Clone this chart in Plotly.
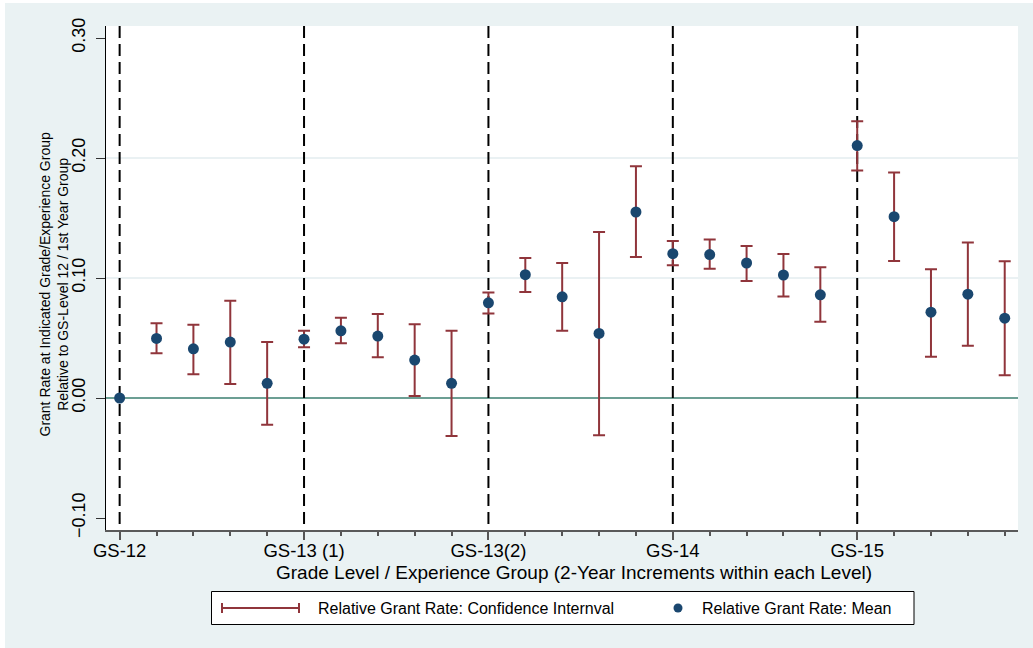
import plotly.graph_objects as go

# ---- data -----------------------------------------------------------------
group_index = list(range(25))          # 2-year experience groups, 5 per grade
grade_starts = [0, 5, 10, 15, 20]      # first group of each grade level
grade_labels = ["GS-12", "GS-13 (1)", "GS-13(2)", "GS-14", "GS-15"]

rate_mean = [0.000, 0.0496, 0.0410, 0.0466, 0.0122,
             0.0490, 0.0560, 0.0516, 0.0316, 0.0122,
             0.0793, 0.1028, 0.0843, 0.0538, 0.1550,
             0.1203, 0.1195, 0.1125, 0.1025, 0.0860,
             0.2104, 0.1511, 0.0715, 0.0865, 0.0665]
ci_lower = [None, 0.0372, 0.0197, 0.0117, -0.0222,
            0.0422, 0.0457, 0.0340, 0.0017, -0.0316,
            0.0704, 0.0884, 0.0560, -0.0310, 0.1175,
            0.1106, 0.1078, 0.0976, 0.0845, 0.0635,
            0.1896, 0.1142, 0.0343, 0.0435, 0.0190]
ci_upper = [None, 0.0622, 0.0611, 0.0810, 0.0466,
            0.0560, 0.0668, 0.0700, 0.0615, 0.0560,
            0.0880, 0.1167, 0.1125, 0.1383, 0.1932,
            0.1308, 0.1320, 0.1267, 0.1200, 0.1090,
            0.2306, 0.1880, 0.1073, 0.1295, 0.1140]

y_ticks = [-0.10, 0.00, 0.10, 0.20, 0.30]
grid_values = [0.10, 0.20]

# ---- styling --------------------------------------------------------------
NAVY = "#1A476F"
CRANBERRY = "#90353B"
OUTER_BG = "#EAF2F3"
GRID = "#E3EDEF"
ZERO_LINE = "#3B7F70"
FONT = "Liberation Sans, Arial, sans-serif"

W, H = 1033, 648
M_L, M_R, M_T, M_B = 106, 15, 26, 118
PLOT_W = W - M_L - M_R
PLOT_H = H - M_T - M_B


def px_x(p):
    """Page x pixel -> paper fraction."""
    return (p - M_L) / PLOT_W


def px_y(p):
    """Page y pixel -> paper fraction."""
    return (H - M_B - p) / PLOT_H


# ---- traces ---------------------------------------------------------------
ci_idx = [i for i in group_index if ci_lower[i] is not None]
ci_x = [group_index[i] for i in ci_idx]
ci_y = [rate_mean[i] for i in ci_idx]
err_plus = [ci_upper[i] - rate_mean[i] for i in ci_idx]
err_minus = [rate_mean[i] - ci_lower[i] for i in ci_idx]

fig = go.Figure()
fig.add_trace(go.Scatter(
    x=ci_x, y=ci_y, mode="markers",
    marker=dict(size=1, opacity=0),
    error_y=dict(type="data", symmetric=False,
                 array=err_plus, arrayminus=err_minus,
                 color=CRANBERRY, thickness=2, width=6),
    name="Relative Grant Rate: Confidence Internval",
    hoverinfo="skip", showlegend=False,
))
fig.add_trace(go.Scatter(
    x=group_index, y=rate_mean, mode="markers",
    marker=dict(size=11, color=NAVY, line=dict(width=0)),
    name="Relative Grant Rate: Mean",
    showlegend=False,
))

# ---- background, grid, reference lines ------------------------------------
shapes = [
    dict(type="rect", xref="paper", yref="paper",
         x0=px_x(5), x1=px_x(W + 5), y0=px_y(H + 5), y1=px_y(3),
         fillcolor=OUTER_BG, line=dict(width=0), layer="below"),
    dict(type="rect", xref="paper", yref="paper", x0=0, x1=1, y0=0, y1=1,
         fillcolor="white", line=dict(width=0), layer="below"),
]
for v in grid_values:
    shapes.append(dict(type="line", xref="paper", yref="y", x0=0, x1=1,
                       y0=v, y1=v, line=dict(color=GRID, width=1.5),
                       layer="below"))
shapes.append(dict(type="line", xref="paper", yref="y", x0=0, x1=1,
                   y0=0, y1=0, line=dict(color=ZERO_LINE, width=1.5),
                   layer="below"))
for g in grade_starts:
    shapes.append(dict(type="line", xref="x", yref="paper", x0=g, x1=g,
                       y0=1, y1=0,
                       line=dict(color="black", width=2, dash="12px,6px"),
                       layer="between"))

# ---- legend box (drawn by hand so the CI key keeps its end caps) ----------
leg_y = px_y(608)
cap = 5 / PLOT_H
shapes += [
    dict(type="rect", xref="paper", yref="paper",
         x0=px_x(211.5), x1=px_x(914), y0=px_y(624.5), y1=px_y(591.5),
         fillcolor="white", line=dict(color="black", width=1)),
    dict(type="line", xref="paper", yref="paper",
         x0=px_x(222), x1=px_x(299), y0=leg_y, y1=leg_y,
         line=dict(color=CRANBERRY, width=2)),
    dict(type="line", xref="paper", yref="paper",
         x0=px_x(222), x1=px_x(222), y0=leg_y - cap, y1=leg_y + cap,
         line=dict(color=CRANBERRY, width=2)),
    dict(type="line", xref="paper", yref="paper",
         x0=px_x(299), x1=px_x(299), y0=leg_y - cap, y1=leg_y + cap,
         line=dict(color=CRANBERRY, width=2)),
    dict(type="circle", xref="paper", yref="paper",
         x0=px_x(673.5), x1=px_x(682.5), y0=px_y(612.5), y1=px_y(603.5),
         fillcolor=NAVY, line=dict(width=0)),
]

annotations = [
    dict(text="Relative Grant Rate: Confidence Internval",
         xref="paper", yref="paper", x=px_x(316), y=leg_y,
         xanchor="left", yanchor="middle", showarrow=False,
         font=dict(family=FONT, size=16, color="black")),
    dict(text="Relative Grant Rate: Mean",
         xref="paper", yref="paper", x=px_x(700), y=leg_y,
         xanchor="left", yanchor="middle", showarrow=False,
         font=dict(family=FONT, size=16, color="black")),
    dict(text="Grade Level / Experience Group (2-Year Increments within each Level)",
         xref="paper", yref="paper", x=px_x(574), y=px_y(572),
         xanchor="center", yanchor="middle", showarrow=False,
         font=dict(family=FONT, size=19, color="black")),
    dict(text="Grant Rate at Indicated Grade/Experience Group<br>"
              "Relative to GS-Level 12 / 1st Year Group",
         xref="paper", yref="paper", x=px_x(53.5), y=px_y(285),
         xanchor="center", yanchor="middle", showarrow=False, textangle=-90,
         font=dict(family=FONT, size=14, color="black")),
]

fig.update_layout(
    width=W, height=H,
    margin=dict(l=M_L, r=M_R, t=M_T, b=M_B, pad=0),
    paper_bgcolor="white", plot_bgcolor="white",
    font=dict(family=FONT, color="black"),
    shapes=shapes, annotations=annotations,
    showlegend=False,
)
fig.update_xaxes(
    range=[-0.37, 24.36],
    tickmode="array", tickvals=grade_starts, ticktext=grade_labels,
    ticks="outside", ticklen=8, tickwidth=1.5, tickcolor="#555555",
    minor=dict(tickmode="linear", tick0=0, dtick=1, ticks="outside",
               ticklen=4, tickwidth=1.5, tickcolor="#555555"),
    showline=True, linecolor="#5A5A5A", linewidth=2,
    showgrid=False, zeroline=False, ticklabelstandoff=-5,
    tickfont=dict(family=FONT, size=18.5, color="black"),
)
fig.update_yaxes(
    range=[-0.11, 0.31],
    tickmode="array", tickvals=y_ticks, tickformat=".2f", tickangle=-90,
    ticks="outside", ticklen=9, tickwidth=1, tickcolor="#333333",
    showline=True, linecolor="black", linewidth=1,
    showgrid=False, zeroline=False, ticklabelstandoff=4,
    tickfont=dict(family=FONT, size=18, color="black"),
)

fig.write_html("out.html")
